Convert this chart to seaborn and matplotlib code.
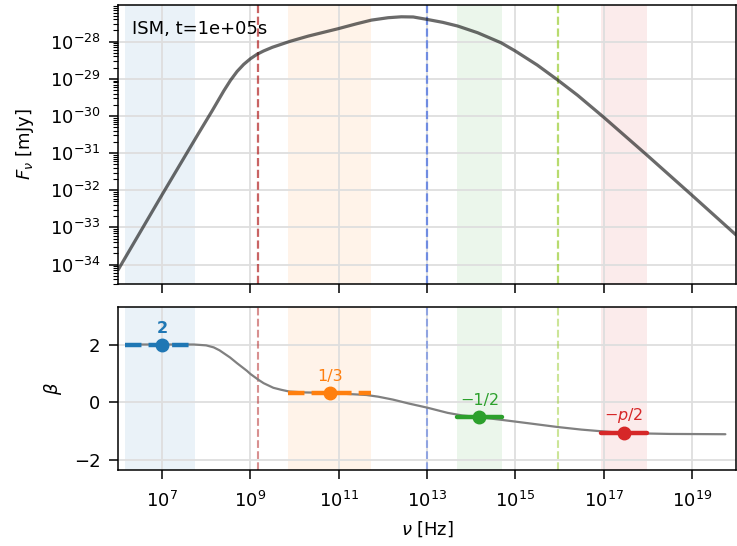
import numpy as np
import seaborn as sns
import matplotlib
matplotlib.use("Agg")
import matplotlib.pyplot as plt
from matplotlib.ticker import LogLocator, NullLocator

# spectrum (log10 values)
log_nu_spec = [6.0, 7.0, 7.83, 8.13, 8.4, 8.55, 8.7, 8.85, 9.0, 9.15, 9.3,
               9.5, 9.7, 9.9, 10.31, 10.99, 11.4, 11.74, 12.12, 12.42, 12.69,
               13.0, 13.36, 13.70, 14.15, 14.68, 15.0, 15.5, 15.96, 16.41,
               16.7, 17.0, 17.5, 17.99, 19.0, 20.0]
log_flux = [-34.15, -32.12, -30.46, -29.87, -29.32, -29.04, -28.80, -28.61,
            -28.46, -28.34, -28.25, -28.15, -28.07, -27.99, -27.85, -27.65,
            -27.52, -27.42, -27.355, -27.33, -27.335, -27.40, -27.48, -27.58,
            -27.76, -28.03, -28.25, -28.63, -29.03, -29.44, -29.73, -30.03,
            -30.55, -31.06, -32.13, -33.2]

# local spectral index
log_nu_beta = [6.20, 7.72, 8.0, 8.17, 8.3, 8.54, 8.7, 8.92, 9.0, 9.18, 9.3,
               9.52, 9.7, 9.88, 10.2, 10.80, 11.63, 11.9, 12.23, 12.6, 13.01,
               13.47, 13.8, 14.19, 14.68, 15.3, 15.96, 16.5, 16.97, 17.46,
               18.5, 19.76]
beta = [2.0, 2.0, 1.97, 1.90, 1.80, 1.55, 1.35, 1.09, 0.98, 0.78, 0.66,
        0.50, 0.43, 0.37, 0.34, 0.32, 0.25, 0.19, 0.09, -0.05, -0.19,
        -0.37, -0.46, -0.52, -0.61, -0.73, -0.86, -0.95, -1.01, -1.07,
        -1.10, -1.11]

# segments / bands
band_lo = [6.16, 9.86, 13.69, 16.95]
band_hi = [7.75, 11.74, 14.70, 17.99]
band_mid = [7.0, 10.80, 14.19, 17.46]
band_beta = [2.0, 1 / 3, -0.5, -1.08]
band_label = ["2", "1/3", "\u22121/2", "$-p/2$"]
band_color = ["#1f77b4", "#ff7f0e", "#2ca02c", "#d62728"]
band_style = ["--", "--", "-", "-"]

# characteristic frequencies
log_breaks = [9.18, 13.01, 15.96]
break_color = ["firebrick", "royalblue", "yellowgreen"]

sns.set_theme(style="ticks")
plt.rcParams["font.family"] = ["DejaVu Sans"]
plt.rcParams["font.size"] = 13
plt.rcParams["axes.labelsize"] = 13
plt.rcParams["xtick.labelsize"] = 13
plt.rcParams["ytick.labelsize"] = 13
plt.rcParams["axes.edgecolor"] = "black"
plt.rcParams["axes.linewidth"] = 1.1
for key in ["text.color", "axes.labelcolor", "xtick.color", "ytick.color"]:
    plt.rcParams[key] = "black"

fig, (ax1, ax2) = plt.subplots(2, 1, figsize=(7.37, 5.46), dpi=100, sharex=True,
                               gridspec_kw={"height_ratios": [279, 163]})
fig.subplots_adjust(left=0.160, right=0.9986, top=0.9908, bottom=0.1392, hspace=0.104)

nu_spec = [10 ** v for v in log_nu_spec]
flux = [10 ** v for v in log_flux]
nu_beta = [10 ** v for v in log_nu_beta]

for ax in (ax1, ax2):
    for lo, hi, c in zip(band_lo, band_hi, band_color):
        ax.axvspan(10 ** lo, 10 ** hi, color=c, alpha=0.09, lw=0, zorder=0)
    ax.grid(True, which="major", color="0.87", lw=1.3, zorder=0.5)
    ax.set_axisbelow(True)

for lb, c in zip(log_breaks, break_color):
    ax1.axvline(10 ** lb, color=c, ls="--", lw=1.6, alpha=0.7, zorder=1)
    ax2.axvline(10 ** lb, color=c, ls="--", lw=1.5, alpha=0.5, zorder=1)

sns.lineplot(x=nu_spec, y=flux, ax=ax1, color="k", alpha=0.65, lw=2.3, zorder=3)
ax1.set_xscale("log")
ax1.set_yscale("log")
ax1.set_xlim(1e6, 1e20)
ax1.set_ylim(3e-35, 0.97e-27)
ax1.set_ylabel(r"$F_\nu$ [mJy]", labelpad=10)
ax1.text(0.022, 0.945, "ISM, t=1e+05s", transform=ax1.transAxes,
         ha="left", va="top", fontsize=13)
ax1.yaxis.set_major_locator(LogLocator(base=10, numticks=20))
ax1.yaxis.set_minor_locator(LogLocator(base=10, subs=np.arange(2, 10), numticks=20))
ax1.tick_params(axis="x", labelbottom=False)

sns.lineplot(x=nu_beta, y=beta, ax=ax2, color="gray", lw=1.6, zorder=3)
for lo, hi, mid, b, lab, c, st in zip(band_lo, band_hi, band_mid, band_beta,
                                       band_label, band_color, band_style):
    ax2.plot([10 ** lo, 10 ** hi], [b, b], color=c, ls=st, lw=3.2, zorder=4)
    ax2.plot([10 ** mid], [b], "o", color=c, ms=9, zorder=5)
    ax2.annotate(lab, (10 ** mid, b), xytext=(0, 6), textcoords="offset points",
                 ha="center", va="bottom", color=c, fontsize=11.5,
                 fontweight="bold" if lab == "2" else "normal")
ax2.set_ylim(-2.35, 3.3)
ax2.set_yticks([-2, 0, 2])
ax2.set_ylabel(r"$\beta$", labelpad=7.5)
ax2.set_xlabel(r"$\nu$ [Hz]", labelpad=6)
ax2.xaxis.set_major_locator(LogLocator(base=10, subs=[1.0], numticks=8))
ax2.xaxis.set_minor_locator(NullLocator())

for ax in (ax1, ax2):
    ax.tick_params(direction="out", length=6.5, width=1.1, color="black", pad=6)
    ax.tick_params(which="minor", length=3.4, width=0.8)
    for s in ax.spines.values():
        s.set_visible(True)
        s.set_color("black")
ax2.tick_params(axis="x", pad=8.5)

fig.savefig("out.png", dpi=100)
